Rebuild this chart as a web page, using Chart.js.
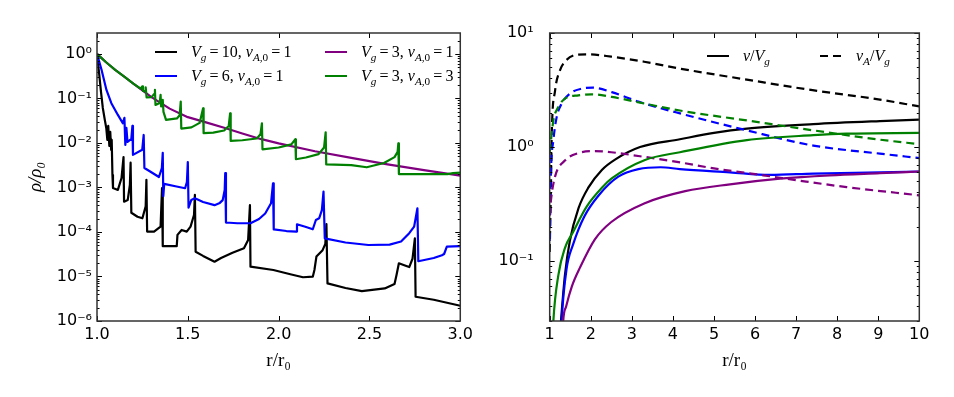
<!DOCTYPE html>
<html>
<head>
<meta charset="utf-8">
<script src="https://cdn.jsdelivr.net/npm/chart.js@4"></script>
<style>
  html, body { margin: 0; padding: 0; background: #fff; }
  #wrap { position: relative; width: 954px; height: 397px; overflow: hidden; }
  canvas { position: absolute; top: 0; }
  #left { left: 0; }
  #right { left: 477px; }
  .item { position: absolute; height: 20px; display: flex; align-items: center;
          font-family: "Liberation Serif", "DejaVu Serif", serif; font-size: 16px; white-space: nowrap; }
  .ln { display: inline-block; width: 22px; height: 2px; }
  sub { font-size: 70%; vertical-align: -0.35em; line-height: 0; }
</style>
</head>
<body>
<div id="wrap">
  <canvas id="left" width="477" height="397"></canvas>
  <canvas id="right" width="477" height="397"></canvas>
  <div id="legends"></div>
</div>
<script>
/* ============================= */
/* DATA    */
/* ============================= */

// left panel: rho/rho0 against r/r0, pairs [r, rho]
const rhoBlack = [[1.000,1.0],[1.011,0.39],[1.022,0.14],[1.032,0.061],[1.043,0.033],[1.051,0.0217],
  [1.057,0.0117],[1.062,0.0241],[1.068,0.0086],[1.073,0.0177],[1.078,0.0070],[1.081,0.0117],
  [1.085,0.0019],[1.088,9.7e-4],[1.115,8.8e-4],[1.135,1.63e-3],[1.146,4.8e-3],[1.149,4.8e-4],
  [1.169,5.2e-4],[1.181,1.14e-3],[1.185,3.6e-3],[1.189,2.7e-4],[1.223,2.2e-4],[1.250,2.03e-4],
  [1.268,3.8e-4],[1.272,1.48e-3],[1.276,1.02e-4],[1.314,1.02e-4],[1.350,1.32e-4],[1.358,9.7e-4],
  [1.362,4.8e-5],[1.439,4.8e-5],[1.443,8.6e-5],[1.466,1.11e-4],[1.494,1.02e-4],[1.515,1.32e-4],
  [1.534,2.4e-4],[1.539,6.8e-4],[1.543,3.6e-5],[1.584,2.9e-5],[1.647,2.15e-5],[1.683,2.6e-5],
  [1.746,3.4e-5],[1.809,4.3e-5],[1.832,6.6e-5],[1.842,4.0e-4],[1.845,1.66e-5],[1.971,1.40e-5],
  [2.070,1.11e-5],[2.134,9.6e-6],[2.188,9.9e-6],[2.197,1.40e-5],[2.208,2.8e-5],[2.242,3.9e-5],
  [2.257,5.4e-5],[2.263,1.51e-4],[2.269,7.0e-6],[2.368,5.5e-6],[2.458,4.7e-6],[2.584,5.4e-6],
  [2.638,6.8e-6],[2.649,1.08e-5],[2.662,1.98e-5],[2.703,1.72e-5],[2.719,1.63e-5],[2.737,2.5e-5],
  [2.750,7.2e-5],[2.754,3.5e-6],[2.854,3.0e-6],[3.000,2.2e-6]];

const rhoBlue = [[1.000,1.0],[1.025,0.44],[1.052,0.155],[1.079,0.078],[1.115,0.0426],[1.142,0.0277],
  [1.151,0.0365],[1.156,0.0090],[1.162,0.0217],[1.168,0.0105],[1.189,0.0123],[1.195,0.0241],
  [1.198,0.0054],[1.249,0.0070],[1.257,0.0151],[1.261,0.00274],[1.297,0.00223],[1.341,0.00172],
  [1.357,0.00274],[1.362,0.0060],[1.365,6.4e-4],[1.370,1.2e-3],[1.438,1.05e-3],[1.485,9.6e-4],
  [1.495,1.33e-3],[1.500,3.7e-3],[1.504,3.5e-4],[1.519,5.2e-4],[1.539,5.7e-4],[1.584,4.7e-4],
  [1.647,4.0e-4],[1.676,4.5e-4],[1.692,5.2e-4],[1.703,8.8e-4],[1.706,2.1e-3],[1.710,1.63e-4],
  [1.773,1.57e-4],[1.845,1.57e-4],[1.892,1.96e-4],[1.926,2.6e-4],[1.958,4.4e-4],[1.969,1.24e-3],
  [1.973,1.14e-4],[2.043,1.05e-4],[2.097,1.02e-4],[2.101,1.49e-4],[2.151,1.29e-4],[2.188,1.15e-4],
  [2.205,1.86e-4],[2.223,2.03e-4],[2.238,3.1e-4],[2.247,8.1e-4],[2.254,7.2e-5],[2.368,5.8e-5],
  [2.494,5.1e-5],[2.611,5.2e-5],[2.674,6.1e-5],[2.719,9.4e-5],[2.746,1.32e-4],[2.764,3.4e-4],
  [2.769,2.2e-5],[2.854,2.6e-5],[2.899,3.0e-5],[2.911,3.2e-5],[2.926,4.7e-5],[3.000,4.8e-5]];

const rhoPurple = [[1.0,1.0],[1.05,0.65],[1.1,0.44],[1.15,0.31],[1.2,0.216],[1.3,0.107],[1.4,0.059],
  [1.5,0.038],[1.6,0.029],[1.7,0.0219],[1.8,0.0163],[1.9,0.0123],[2.0,0.0098],[2.2,0.0065],
  [2.4,0.0046],[2.6,0.0033],[2.8,0.00245],[3.0,0.00184]];

const rhoGreen = [[1.0,1.0],[1.05,0.65],[1.1,0.44],[1.15,0.31],[1.2,0.216],[1.24,0.166],[1.249,0.186],
  [1.253,0.148],[1.265,0.145],[1.268,0.178],[1.273,0.106],[1.30,0.107],[1.315,0.126],[1.319,0.155],
  [1.322,0.0714],[1.345,0.079],[1.35,0.12],[1.353,0.066],[1.36,0.076],[1.362,0.093],[1.366,0.050],
  [1.38,0.033],[1.44,0.0355],[1.455,0.0417],[1.461,0.085],[1.464,0.021],[1.52,0.0224],[1.565,0.0282],
  [1.584,0.060],[1.587,0.0166],[1.64,0.017],[1.70,0.019],[1.725,0.024],[1.733,0.0465],[1.736,0.0111],
  [1.80,0.0115],[1.88,0.0126],[1.90,0.0158],[1.908,0.0277],[1.911,0.0072],[2.0,0.0079],[2.07,0.0093],
  [2.092,0.0121],[2.095,0.0043],[2.15,0.0047],[2.22,0.0056],[2.25,0.0079],[2.259,0.0174],[2.262,0.0033],
  [2.40,0.00316],[2.485,0.00284],[2.58,0.00355],[2.638,0.0048],[2.655,0.0063],[2.659,0.0098],
  [2.662,0.0020],[2.93,0.0020],[2.96,0.0021],[3.0,0.00215]];

// right panel: v/Vg (solid) and vA/Vg (dashed), pairs [r, value]
const vBlack = [[1.24,0.02],[1.275,0.03],[1.37,0.075],[1.49,0.15],[1.70,0.29],[1.94,0.44],[2.27,0.63],
  [2.6,0.78],[3.2,1.0],[4.17,1.17],[5.0,1.33],[5.8,1.45],[7.42,1.59],[9.04,1.69],[10,1.74]];
const vaBlack = [[1.0,0.12],[1.03,0.45],[1.05,1.3],[1.13,3.1],[1.25,4.7],[1.37,5.6],[1.62,6.4],[1.94,6.5],
  [2.5,6.2],[3.3,5.6],[4.2,4.85],[5.8,3.9],[7.4,3.15],[9.0,2.62],[10,2.27]];
const vBlue = [[1.27,0.02],[1.29,0.03],[1.41,0.085],[1.57,0.14],[1.84,0.245],[2.2,0.38],[2.67,0.55],
  [3.16,0.64],[3.7,0.665],[4.17,0.64],[5.39,0.60],[6.36,0.57],[7.42,0.585],[9.04,0.60],[10,0.61]];
const vaBlue = [[1.0,0.15],[1.03,0.6],[1.09,1.15],[1.17,1.83],[1.29,2.4],[1.49,2.94],[1.78,3.25],[2.05,3.32],
  [2.51,3.03],[3.16,2.5],[4.2,1.96],[5.8,1.40],[7.42,1.03],[9.04,0.875],[10,0.80]];
const vPurple = [[1.31,0.02],[1.33,0.03],[1.4,0.04],[1.54,0.06],[1.74,0.088],[2.1,0.155],[2.5,0.22],
  [3.3,0.32],[4.3,0.41],[5.39,0.471],[6.61,0.528],[7.82,0.565],[9.04,0.59],[10,0.61]];
const vaPurple = [[1.0,0.25],[1.03,0.34],[1.13,0.55],[1.37,0.76],[1.7,0.885],[2.1,0.92],[2.5,0.90],
  [3.2,0.83],[4.2,0.73],[5.0,0.65],[6.2,0.565],[7.2,0.5],[8.23,0.445],[10,0.377]];
const vGreen = [[1.07,0.02],[1.09,0.03],[1.21,0.075],[1.37,0.13],[1.57,0.18],[1.9,0.30],[2.3,0.45],
  [2.51,0.53],[3.32,0.77],[4.17,0.90],[5.8,1.15],[7.42,1.27],[8.23,1.31],[10,1.33]];
const vaGreen = [[1.0,0.9],[1.09,1.71],[1.21,2.24],[1.37,2.66],[1.7,2.84],[2.02,2.9],[2.51,2.75],
  [3.32,2.4],[4.2,2.08],[5.8,1.71],[7.42,1.40],[9.04,1.16],[10,1.06]];

const leftXTicks = [1.0, 1.5, 2.0, 2.5, 3.0];
const rightXTicks = [1, 2, 3, 4, 5, 6, 7, 8, 9, 10];
const leftDecades = [-6, -5, -4, -3, -2, -1, 0];
const rightDecades = [-2, -1, 0, 1];

const COLORS = { black: "#000000", blue: "#0000ff", purple: "#800080", green: "#008000" };

/* ============================= */
/* HELPERS                       */
/* ============================= */

const SUP = { "-": "\u207b", "0": "\u2070", "1": "\u00b9", "2": "\u00b2", "3": "\u00b3",
  "4": "\u2074", "5": "\u2075", "6": "\u2076", "7": "\u2077", "8": "\u2078", "9": "\u2079" };

function isDecade(v) {
  const l = Math.log10(v);
  return Math.abs(l - Math.round(l)) < 1e-6;
}

function powLabel(v) {
  if (!isDecade(v)) return "";
  const e = String(Math.round(Math.log10(v)));
  return "10" + e.split("").map((c) => SUP[c]).join("");
}

function logTicks(decades) {
  const out = [];
  decades.forEach((e) => {
    for (let m = 1; m < 10; m++) out.push(m * Math.pow(10, e));
  });
  return out;
}

function toXY(pairs) {
  return pairs.map(([x, y]) => ({ x, y }));
}

// matplotlib style: frame on four sides, tick marks pointing inward
const frameTicks = {
  id: "frameTicks",
  afterDatasetsDraw(chart) {
    const { ctx, chartArea: a } = chart;
    const xs = chart.scales.x, ys = chart.scales.y;
    ctx.save();
    ctx.strokeStyle = "#000";
    ctx.lineWidth = 1;
    ctx.beginPath();
    xs.ticks.forEach((t) => {
      const px = Math.round(xs.getPixelForValue(t.value)) + 0.5;
      ctx.moveTo(px, a.bottom); ctx.lineTo(px, a.bottom - 5);
      ctx.moveTo(px, a.top); ctx.lineTo(px, a.top + 5);
    });
    ys.ticks.forEach((t) => {
      const v = ys.getPixelForValue(t.value);
      if (v < a.top - 0.5 || v > a.bottom + 0.5) return;
      const py = Math.round(v) + 0.5;
      const len = isDecade(t.value) ? 5 : 2.5;
      ctx.moveTo(a.left, py); ctx.lineTo(a.left + len, py);
      ctx.moveTo(a.right, py); ctx.lineTo(a.right - len, py);
    });
    ctx.stroke();
    ctx.strokeStyle = "#333";
    ctx.lineWidth = 1.5;
    ctx.strokeRect(a.left, a.top, a.right - a.left, a.bottom - a.top);
    ctx.restore();
  },
};

const tickFont = { family: "'DejaVu Sans', sans-serif", size: 16 };

function baseOptions(cfg) {
  return {
    responsive: false,
    animation: false,
    events: [],
    layout: { padding: { left: 0, right: cfg.padRight, top: 33, bottom: 0 } },
    plugins: { legend: { display: false }, tooltip: { enabled: false } },
    elements: { point: { radius: 0 } },
    scales: {
      x: {
        type: "linear",
        min: cfg.xMin,
        max: cfg.xMax,
        grid: { display: false, drawTicks: false },
        border: { display: false },
        afterBuildTicks: (s) => { s.ticks = cfg.xTicks.map((v) => ({ value: v })); },
        afterFit: (s) => { s.height = 76; },
        ticks: { color: "#000", font: tickFont, padding: 4, maxRotation: 0, autoSkip: false,
                 callback: cfg.xLabel },
        title: { display: true, text: "r/r\u2080", color: "#000",
                 font: { family: "'Liberation Serif', serif", size: 19 },
                 padding: { top: 0, bottom: 25 } },
      },
      y: {
        type: "logarithmic",
        min: cfg.yMin,
        max: cfg.yMax,
        grid: { display: false, drawTicks: false },
        border: { display: false },
        afterBuildTicks: (s) => {
          s.ticks = logTicks(cfg.decades)
            .filter((v) => v >= cfg.yMin * 0.999 && v <= cfg.yMax * 1.001)
            .map((v) => ({ value: v }));
        },
        afterFit: (s) => { s.width = cfg.yWidth; },
        ticks: { color: "#000", font: tickFont, padding: cfg.yPad, autoSkip: false, callback: powLabel },
        title: cfg.yTitle
          ? { display: true, text: cfg.yTitle, color: "#000",
              font: { family: "'Liberation Serif', serif", size: 19, style: "italic" },
              padding: { top: 25, bottom: 0 } }
          : { display: false },
      },
    },
  };
}

/* ============================= */
/* LEFT PANEL                    */
/* ============================= */

const leftSeries = [
  { data: rhoBlack, color: COLORS.black },
  { data: rhoBlue, color: COLORS.blue },
  { data: rhoPurple, color: COLORS.purple },
  { data: rhoGreen, color: COLORS.green },
];

new Chart(document.getElementById("left"), {
  type: "line",
  data: {
    datasets: leftSeries.map((s, i) => ({
      data: toXY(s.data),
      borderColor: s.color,
      borderWidth: 2.2,
      tension: 0,
      fill: false,
      borderJoinStyle: "round",
      order: leftSeries.length - i,
    })),
  },
  options: baseOptions({
    padRight: 10.3, xMin: 1, xMax: 3, xTicks: leftXTicks,
    xLabel: (v) => Number(v).toFixed(1),
    yMin: 1e-6, yMax: 2.95, decades: leftDecades, yWidth: 97, yPad: 5,
    yTitle: "\u03c1/\u03c1\u2080",
  }),
  plugins: [frameTicks],
});

/* ============================= */
/* RIGHT PANEL                   */
/* ============================= */

const rightSeries = [
  { data: vBlack, color: COLORS.black, dash: [] },
  { data: vaBlack, color: COLORS.black, dash: [8, 5] },
  { data: vBlue, color: COLORS.blue, dash: [] },
  { data: vaBlue, color: COLORS.blue, dash: [8, 5] },
  { data: vPurple, color: COLORS.purple, dash: [] },
  { data: vaPurple, color: COLORS.purple, dash: [8, 5] },
  { data: vGreen, color: COLORS.green, dash: [] },
  { data: vaGreen, color: COLORS.green, dash: [8, 5] },
];

new Chart(document.getElementById("right"), {
  type: "line",
  data: {
    datasets: rightSeries.map((s, i) => ({
      data: toXY(s.data),
      borderColor: s.color,
      borderWidth: 2.2,
      borderDash: s.dash,
      cubicInterpolationMode: "monotone",
      fill: false,
      order: rightSeries.length - i,
    })),
  },
  options: baseOptions({
    padRight: 34.7, xMin: 1, xMax: 10, xTicks: rightXTicks,
    xLabel: (v) => String(v),
    yMin: 0.0298, yMax: 10, decades: rightDecades, yWidth: 72.7, yPad: 16,
    yTitle: null,
  }),
  plugins: [frameTicks],
});

/* ============================= */
/* LEGENDS (html, for subscripts) */
/* ============================= */

const legendItems = [
  { x: 155, y: 52, color: COLORS.black, html: "<i>V</i><sub><i>g</i></sub>&#8201;=&#8201;10, <i>v</i><sub><i>A</i>,0</sub>&#8201;=&#8201;1" },
  { x: 155, y: 76, color: COLORS.blue, html: "<i>V</i><sub><i>g</i></sub>&#8201;=&#8201;6, <i>v</i><sub><i>A</i>,0</sub>&#8201;=&#8201;1" },
  { x: 325, y: 52, color: COLORS.purple, html: "<i>V</i><sub><i>g</i></sub>&#8201;=&#8201;3, <i>v</i><sub><i>A</i>,0</sub>&#8201;=&#8201;1" },
  { x: 325, y: 76, color: COLORS.green, html: "<i>V</i><sub><i>g</i></sub>&#8201;=&#8201;3, <i>v</i><sub><i>A</i>,0</sub>&#8201;=&#8201;3" },
  { x: 707, y: 56, color: COLORS.black, html: "<i>v</i>/<i>V</i><sub><i>g</i></sub>" },
  { x: 820, y: 56, color: COLORS.black, dashed: true, html: "<i>v</i><sub><i>A</i></sub>/<i>V</i><sub><i>g</i></sub>" },
];

const legendBox = document.getElementById("legends");
legendItems.forEach((it) => {
  const div = document.createElement("div");
  div.className = "item";
  div.style.left = it.x + "px";
  div.style.top = it.y - 10 + "px";
  const bg = it.dashed
    ? `repeating-linear-gradient(90deg, ${it.color} 0 8px, transparent 8px 13px)`
    : it.color;
  div.innerHTML = `<span class="ln" style="background:${bg};margin-right:14px"></span><span>${it.html}</span>`;
  legendBox.appendChild(div);
});
</script>
</body>
</html>
